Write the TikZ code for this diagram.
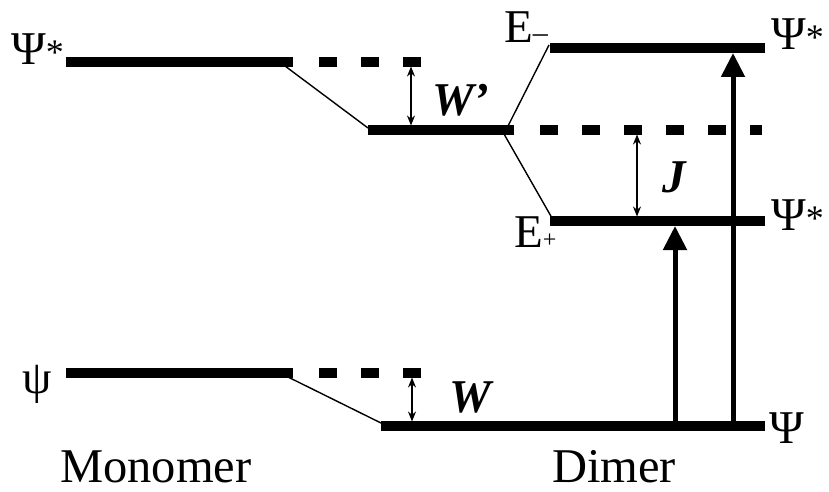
\documentclass[tikz,border=0pt]{standalone}
\usepackage{fontspec}
\setmainfont{Liberation Serif}
\usetikzlibrary{arrows.meta}
\newcommand\lblsize{\fontsize{47}{50}\selectfont}
\newcommand\capsize{\fontsize{48.5}{50}\selectfont}
\newcommand\starmark{{\fontsize{36}{38}\selectfont *}}
\newcommand\minussub{{\fontsize{30}{30}\selectfont –}}
\newcommand\plussub{{\fontsize{24}{24}\selectfont +}}
\tikzset{
  level/.style={line width=9.5pt},
  dashlevel/.style={line width=9.5pt, dash pattern=on 18pt off 24pt},
  link/.style={line width=1.4pt},
  gap/.style={line width=1.3pt, {Stealth[length=10pt,width=8pt]}-{Stealth[length=10pt,width=8pt]}},
  excite/.style={line width=5pt, -{Triangle[length=24pt,width=23pt]}},
  lbl/.style={inner sep=0pt, anchor=base west, font=\lblsize},
  caption/.style={inner sep=0pt, anchor=base west, text depth=0pt, font=\capsize},
  gaplbl/.style={inner sep=0pt, anchor=base west, font=\lblsize\bfseries\itshape},
}
\begin{document}
\begin{tikzpicture}[x=1pt,y=-1pt]
\useasboundingbox (0,0) rectangle (829,492);

% level end points
\coordinate (mxL) at (66,62);   \coordinate (mxR) at (293,62);
\coordinate (mxdA) at (319,62); \coordinate (mxdB) at (422,62);
\coordinate (mgL) at (66,373);  \coordinate (mgR) at (293,373);
\coordinate (mgdA) at (319,373);\coordinate (mgdB) at (422,373);
\coordinate (cL) at (368,130);  \coordinate (cR) at (514,130);
\coordinate (cdA) at (540,130); \coordinate (cdB) at (762,130);
\coordinate (emL) at (550,48);  \coordinate (emR) at (765,48);
\coordinate (epL) at (550,221); \coordinate (epR) at (765,221);
\coordinate (gL) at (381,426);  \coordinate (gR) at (765,426);

% energy levels
\draw[level] (mxL) -- (mxR);
\draw[dashlevel] (mxdA) -- (mxdB);
\draw[level] (mgL) -- (mgR);
\draw[dashlevel] (mgdA) -- (mgdB);
\draw[level] (cL) -- (cR);
\draw[dashlevel] (cdA) -- (cdB);
\draw[level] (emL) -- (emR);
\draw[level] (epL) -- (epR);
\draw[level] (gL) -- (gR);

% correlation lines
\coordinate (s1a) at (285,66);  \coordinate (s1b) at (368,128);
\coordinate (s2a) at (288,377); \coordinate (s2b) at (381,423);
\coordinate (s3a) at (508,126); \coordinate (s3b) at (549,45);
\coordinate (s4a) at (504,134); \coordinate (s4b) at (552,218);
\draw[link] (s1a) -- (s1b);
\draw[link] (s2a) -- (s2b);
\draw[link] (s3a) -- (s3b);
\draw[link] (s4a) -- (s4b);

% energy gaps
\coordinate (wpT) at (411,66.5);  \coordinate (wpB) at (411,125.5);
\coordinate (wT) at (412,377.5);  \coordinate (wB) at (412,421.5);
\coordinate (jT) at (637,134.5);  \coordinate (jB) at (637,216.5);
\draw[gap] (wpT) -- (wpB);
\draw[gap] (wT) -- (wB);
\draw[gap] (jT) -- (jB);

% transitions
\coordinate (t1a) at (675,426); \coordinate (t1b) at (675,226);
\coordinate (t2a) at (733,426); \coordinate (t2b) at (733,53);
\draw[excite] (t1a) -- (t1b);
\draw[excite] (t2a) -- (t2b);

% labels
\node[lbl] (lmx) at (11,65) {Ψ\starmark};
\node[lbl] (lmg) at (22,393) {ψ};
\node[lbl] (lem) at (771,50) {Ψ\starmark};
\node[lbl] (lep) at (771,230) {Ψ\starmark};
\node[lbl] (lg) at (769,443) {Ψ};
\node[lbl] (Em) at (504,43) {E\minussub};
\node[lbl] (Ep) at (514,247) {E\plussub};
\node[gaplbl] (Wp) at (432,115) {W’};
\node[gaplbl] (Wl) at (449,412) {W};
\node[gaplbl] (Jl) at (662,192) {J};
\node[caption] (mono) at (60,482) {Monomer};
\node[caption] (dim) at (552,482) {Dimer};
\end{tikzpicture}
\end{document}
